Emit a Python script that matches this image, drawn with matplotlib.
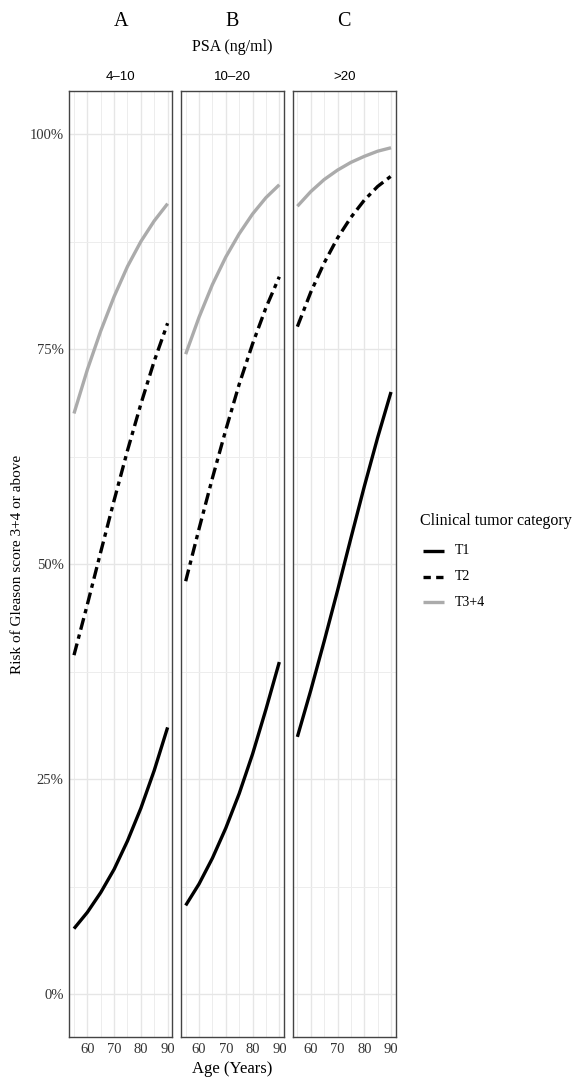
import numpy as np
import matplotlib
matplotlib.use("Agg")
import matplotlib.pyplot as plt
from matplotlib.lines import Line2D
from matplotlib.ticker import FixedLocator

plt.rcParams.update({
    "font.family": ["Liberation Serif", "DejaVu Serif"],
    "font.size": 10,
})

# data (risk in fraction)
ages = [55, 60, 65, 70, 75, 80, 85, 90]
panel_letters = ["A", "B", "C"]
psa_groups = ["4\u201310", "10\u201320", ">20"]
categories = ["T1", "T2", "T3+4"]

risk_a_t1 = [0.076, 0.095, 0.118, 0.145, 0.178, 0.216, 0.260, 0.310]
risk_a_t2 = [0.394, 0.453, 0.514, 0.574, 0.632, 0.686, 0.736, 0.780]
risk_a_t34 = [0.675, 0.726, 0.771, 0.811, 0.846, 0.875, 0.899, 0.919]

risk_b_t1 = [0.103, 0.128, 0.158, 0.193, 0.233, 0.279, 0.331, 0.386]
risk_b_t2 = [0.480, 0.541, 0.600, 0.656, 0.709, 0.756, 0.798, 0.834]
risk_b_t34 = [0.744, 0.787, 0.825, 0.857, 0.884, 0.907, 0.926, 0.941]

risk_c_t1 = [0.299, 0.353, 0.410, 0.469, 0.530, 0.590, 0.647, 0.700]
risk_c_t2 = [0.776, 0.816, 0.850, 0.879, 0.903, 0.923, 0.939, 0.951]
risk_c_t34 = [0.916, 0.933, 0.947, 0.958, 0.967, 0.974, 0.980, 0.984]

panels = [
    [risk_a_t1, risk_a_t2, risk_a_t34],
    [risk_b_t1, risk_b_t2, risk_b_t34],
    [risk_c_t1, risk_c_t2, risk_c_t34],
]

W, H = 582, 1079
GREY = "#ababab"
styles = {
    "T1": dict(color="black", linestyle="-"),
    "T2": dict(color="black", dashes=(3.6, 1.5, 1.3, 1.5)),
    "T3+4": dict(color=GREY, linestyle="-"),
}
LW = 2.4


def fx(px):
    return px / W


def fy(py):
    return 1 - py / H


fig = plt.figure(figsize=(W / 100, H / 100), dpi=100)

panel_left = [69.3, 181.0, 292.7]
panel_w = 103.0
top_px, bot_px = 91.0, 1037.0

for i, (left, series) in enumerate(zip(panel_left, panels)):
    ax = fig.add_axes([fx(left), fy(bot_px), panel_w / W, (bot_px - top_px) / H])
    ax.set_xlim(53.25, 91.75)
    ax.set_ylim(-0.05, 1.05)
    ax.xaxis.set_major_locator(FixedLocator([60, 70, 80, 90]))
    ax.xaxis.set_minor_locator(FixedLocator([55, 65, 75, 85]))
    ax.yaxis.set_major_locator(FixedLocator([0, 0.25, 0.5, 0.75, 1.0]))
    ax.yaxis.set_minor_locator(FixedLocator([0.125, 0.375, 0.625, 0.875]))
    ax.grid(which="major", color="#e6e6e6", linewidth=1.0)
    ax.grid(which="minor", color="#ededed", linewidth=0.7)
    ax.set_axisbelow(True)
    ax.tick_params(which="both", length=0, labelsize=10.5, labelcolor="#333333", pad=4)
    if i == 0:
        ax.set_yticklabels(["0%", "25%", "50%", "75%", "100%"])
    else:
        ax.set_yticklabels([])
    for sp in ax.spines.values():
        sp.set_color("#444444")
        sp.set_linewidth(1.0)
    for cat, vals in zip(categories, series):
        ax.plot(ages, vals, linewidth=LW, solid_capstyle="butt",
                dash_capstyle="butt", **styles[cat])
    cx = left + panel_w / 2
    fig.text(fx(cx), fy(22), panel_letters[i], ha="center", va="center", fontsize=14.5)
    fig.text(fx(cx), fy(77), psa_groups[i], ha="center", va="center", fontsize=9.5,
             family=["Liberation Sans", "DejaVu Sans"])

fig.text(fx(232.5), fy(47), "PSA (ng/ml)", ha="center", va="center", fontsize=11.5)
fig.text(fx(232.5), fy(1069), "Age (Years)", ha="center", va="center", fontsize=12)
fig.text(fx(18), fy(564), "Risk of Gleason score 3+4 or above", ha="center",
         va="center", rotation=90, fontsize=11)

# legend
fig.text(fx(420.5), fy(521), "Clinical tumor category", ha="left", va="center",
         fontsize=11.5)
leg_y = [551, 577, 602]
for cat, yy in zip(categories, leg_y):
    st = dict(styles[cat])
    if cat == "T2":
        st["dashes"] = (2.2, 1.6)
    fig.add_artist(Line2D([fx(423), fx(444)], [fy(yy), fy(yy)], linewidth=LW,
                          transform=fig.transFigure, solid_capstyle="butt",
                          dash_capstyle="butt", **st))
    fig.text(fx(455), fy(yy), cat, ha="left", va="center", fontsize=10)

fig.savefig("out.png", dpi=100)
